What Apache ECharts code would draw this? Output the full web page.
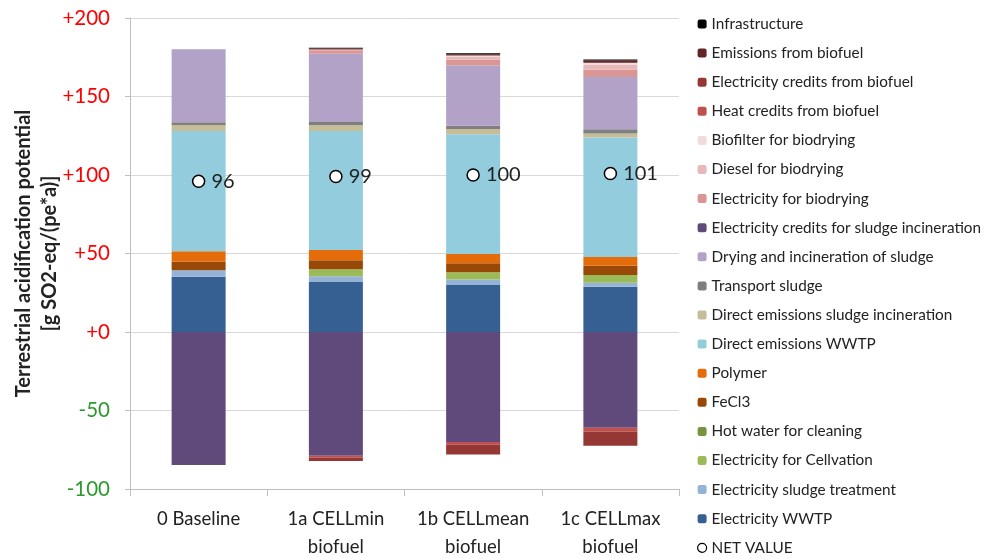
<!DOCTYPE html>
<html>
<head>
<meta charset="utf-8">
<script src="https://cdn.jsdelivr.net/npm/echarts@6/dist/echarts.min.js"></script>
<style>
  html, body { margin: 0; padding: 0; background: #fff; }
  #chart { width: 984px; height: 559px; }
</style>
</head>
<body>
<div id="chart"></div>
<script>
// scenarios
var categories = ['0 Baseline', '1a CELLmin\nbiofuel', '1b CELLmean\nbiofuel', '1c CELLmax\nbiofuel'];

// contributions, g SO2-eq/(pe*a) — stacking order bottom -> top
var electricityWWTP        = [35.2, 32.1, 30.2, 28.9];
var electricitySludge      = [4.2, 3.4, 3.2, 2.5];
var electricityCellvation  = [0, 4.5, 4.7, 4.9];
var hotWater               = [0, 0, 0, 0];
var fecl3                  = [5.3, 5.7, 5.7, 5.9];
var polymer                = [6.8, 6.6, 5.9, 5.5];
var directWWTP             = [76.6, 75.8, 76.2, 76.2];
var directSludgeInc        = [3.6, 3.6, 3.4, 2.5];
var transportSludge        = [1.9, 2.1, 2.1, 2.8];
var dryingIncineration     = [46.5, 43.5, 38.4, 33.3];
var creditsSludgeInc       = [-84.7, -78.8, -70.1, -61.0];
var electricityBiodrying   = [0, 2.1, 3.6, 4.7];
var dieselBiodrying        = [0, 0.3, 2.1, 2.8];
var biofilterBiodrying     = [0, 0.2, 0.6, 1.5];
var heatCreditsBiofuel     = [0, -1.1, -1.7, -2.5];
var elecCreditsBiofuel     = [0, -2.3, -6.2, -8.9];
var emissionsBiofuel       = [0, 0.8, 0.8, 1.5];
var infrastructure         = [0, 0.3, 0.6, 0.6];
var netValue               = [96, 99, 100, 101];

var yTicks = { min: -100, max: 200, step: 50 };

var stackDefs = [
  ['Electricity WWTP', electricityWWTP, '#376092'],
  ['Electricity sludge treatment', electricitySludge, '#95b3d7'],
  ['Electricity for Cellvation', electricityCellvation, '#9bbb59'],
  ['Hot water for cleaning', hotWater, '#77933c'],
  ['FeCl3', fecl3, '#984807'],
  ['Polymer', polymer, '#e46c0a'],
  ['Direct emissions WWTP', directWWTP, '#93cddd'],
  ['Direct emissions sludge incineration', directSludgeInc, '#c4bd97'],
  ['Transport sludge', transportSludge, '#7f7f7f'],
  ['Drying and incineration of sludge', dryingIncineration, '#b3a2c7'],
  ['Electricity credits for sludge incineration', creditsSludgeInc, '#604a7b'],
  ['Electricity for biodrying', electricityBiodrying, '#d99694'],
  ['Diesel for biodrying', dieselBiodrying, '#e6b9b8'],
  ['Biofilter for biodrying', biofilterBiodrying, '#f2dcdb'],
  ['Heat credits from biofuel', heatCreditsBiofuel, '#c0504d'],
  ['Electricity credits from biofuel', elecCreditsBiofuel, '#953735'],
  ['Emissions from biofuel', emissionsBiofuel, '#632523'],
  ['Infrastructure', infrastructure, '#000000']
];

var series = stackDefs.map(function (d) {
  return {
    name: d[0],
    type: 'bar',
    stack: 'total',
    barWidth: 54,
    data: d[1],
    itemStyle: { color: d[2] },
    emphasis: { disabled: true }
  };
});

series.push({
  name: 'NET VALUE',
  type: 'scatter',
  data: netValue,
  symbol: 'circle',
  symbolSize: 12,
  z: 10,
  itemStyle: { color: '#fff', borderColor: '#000', borderWidth: 1.5, opacity: 1 },
  label: {
    show: true,
    position: 'right',
    distance: 6,
    fontSize: 20,
    fontFamily: 'Lato',
    color: '#222'
  }
});

var legendData = stackDefs.map(function (d) { return d[0]; }).reverse();
legendData.push({ name: 'NET VALUE', icon: 'circle', itemStyle: { color: '#fff', borderColor: '#000', borderWidth: 1.2 } });

var myChart = echarts.init(document.getElementById('chart'));

var option = {
  backgroundColor: '#fff',
  animation: false,
  grid: { left: 130, right: 305, top: 18, bottom: 70, outerBoundsMode: 'none' },
  legend: {
    orient: 'vertical',
    left: 697,
    top: 16,
    padding: 0,
    itemWidth: 9,
    itemHeight: 9,
    itemGap: 13.1,
    selectedMode: false,
    textStyle: { fontSize: 15.3, fontFamily: 'Lato', color: '#222', lineHeight: 16 },
    data: legendData
  },
  xAxis: {
    type: 'category',
    data: categories,
    axisLine: { show: true, onZero: false, lineStyle: { color: '#bfbfbf' } },
    axisTick: { show: true, length: 7, lineStyle: { color: '#bfbfbf' } },
    axisLabel: { interval: 0, fontSize: 18.5, fontFamily: 'Lato', color: '#222', lineHeight: 28, margin: 16 }
  },
  yAxis: {
    type: 'value',
    min: yTicks.min,
    max: yTicks.max,
    interval: yTicks.step,
    name: 'Terrestrial acidification potential\n[g SO2-eq/(pe*a)]',
    nameLocation: 'middle',
    nameGap: 67,
    nameMoveOverlap: false,
    nameTextStyle: { fontSize: 20, fontWeight: 'bold', fontFamily: 'Lato', color: '#222', lineHeight: 26 },
    axisLine: { show: true, lineStyle: { color: '#bfbfbf' } },
    axisTick: { show: true, length: 5, lineStyle: { color: '#bfbfbf' } },
    splitLine: { lineStyle: { color: '#d9d9d9' } },
    axisLabel: {
      fontSize: 20.5,
      fontFamily: 'Lato',
      margin: 20,
      formatter: function (v) { return v >= 0 ? '+' + v : '' + v; },
      color: function (v) { return Number(v) >= 0 ? '#ff0000' : '#2e9a2e'; }
    }
  },
  series: series
};

myChart.setOption(option, true);
</script>
</body>
</html>
